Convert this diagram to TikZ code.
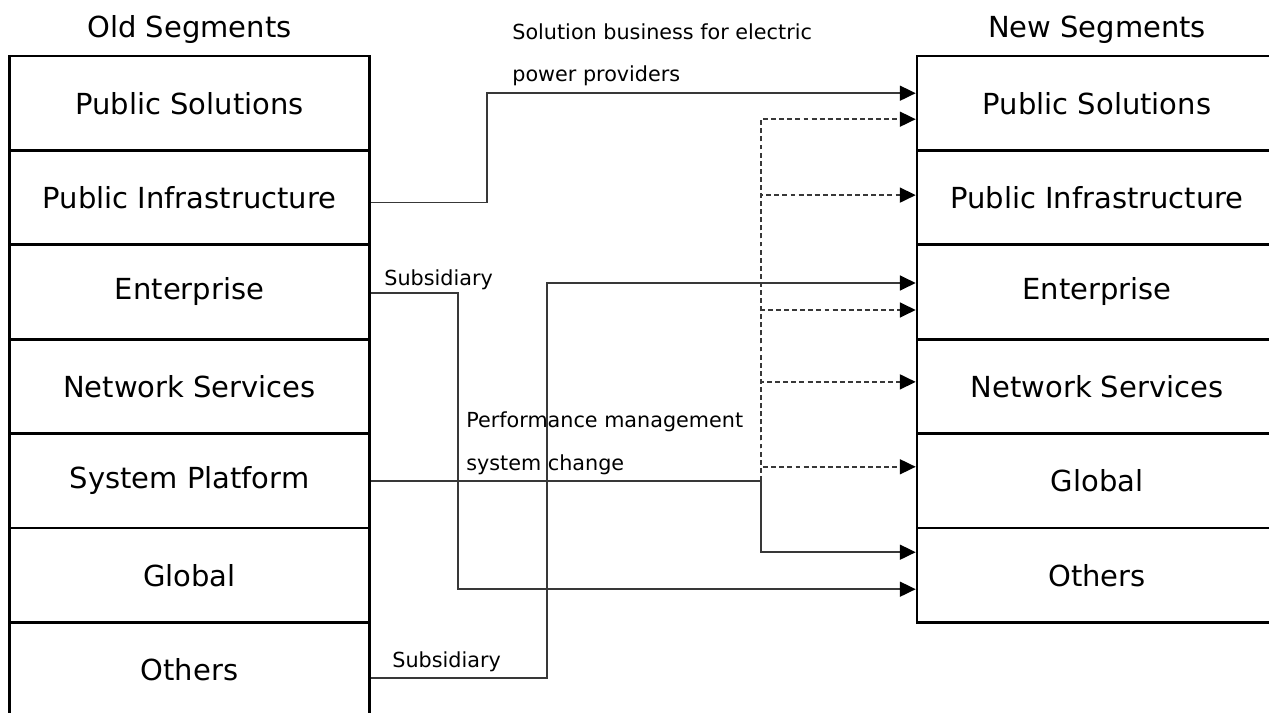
\documentclass[tikz,border=0pt]{standalone}
\usepackage{fontspec}
\setmainfont{DejaVu Sans}
\usetikzlibrary{arrows.meta}
\definecolor{cline}{HTML}{383838}

\begin{document}
\begin{tikzpicture}[x=0.02cm,y=-0.02cm,
  seg/.style={draw,line width=1.5pt,minimum width=7.2cm,minimum height=1.888cm,
    inner sep=0pt,font=\fontsize{16.5}{20}\selectfont},
  head/.style={anchor=base,inner sep=0pt,font=\fontsize{16.5}{20}\selectfont},
  note/.style={anchor=base west,align=left,inner sep=0pt,
    font=\fontsize{11.8}{24}\selectfont},
  conn/.style={draw=cline,line width=0.9pt,
    -{Triangle[length=9pt,width=8.5pt,color=black]}},
  moved/.style={conn,dash pattern=on 2.8pt off 1.8pt}]
  \useasboundingbox (0,0) rectangle (1269,713);
  % old segments
  \node[head] (oldT) at (189.5,37.5) {Old Segments};
  \node[seg] (solL) at (189.5,103.2) {Public Solutions};
  \node[seg] (infL) at (189.5,197.6) {Public Infrastructure};
  \node[seg] (entL) at (189.5,292.0) {Enterprise};
  \node[seg] (netL) at (189.5,386.4) {Network Services};
  \node[seg] (sysL) at (189.5,480.8) {System Platform};
  \node[seg] (gloL) at (189.5,575.2) {Global};
  \node[seg] (othL) at (189.5,669.6) {Others};
  % new segments
  \node[head] (newT) at (1097,37.5) {New Segments};
  \node[seg] (solR) at (1097,103.2) {Public Solutions};
  \node[seg] (infR) at (1097,197.6) {Public Infrastructure};
  \node[seg] (entR) at (1097,292.0) {Enterprise};
  \node[seg] (netR) at (1097,386.4) {Network Services};
  \node[seg] (gloR) at (1097,480.8) {Global};
  \node[seg] (othR) at (1097,575.2) {Others};
  % notes (base = last line)
  \node[note] (powerNote) at (512,82) {Solution business for electric\\power providers};
  \node[note] (subA) at (384,285) {Subsidiary};
  \node[note] (perfNote) at (466,470) {Performance management\\system change};
  \node[note] (subB) at (392,667) {Subsidiary};
  % moves
  \coordinate (split) at (761,480.8);
  \draw[conn] ([yshift=-0.1cm]infL.east) -- ++(116,0) |- ([yshift=0.2cm]solR.west);
  \draw[conn] ([yshift=-0.02cm]entL.east) -- ++(87,0) |- ([yshift=-0.28cm]othR.west);
  \draw[conn] ([yshift=-0.17cm]othL.east) -- ++(176,0) |- ([yshift=0.18cm]entR.west);
  \draw[conn] (sysL.east) -- (split) |- ([yshift=0.46cm]othR.west);
  \draw[moved] (split) |- ([yshift=-0.32cm]solR.west);
  \draw[moved] (split) |- ([yshift=0.05cm]infR.west);
  \draw[moved] (split) |- ([yshift=-0.36cm]entR.west);
  \draw[moved] (split) |- ([yshift=0.09cm]netR.west);
  \draw[moved] (split) |- ([yshift=0.28cm]gloR.west);
\end{tikzpicture}
\end{document}
